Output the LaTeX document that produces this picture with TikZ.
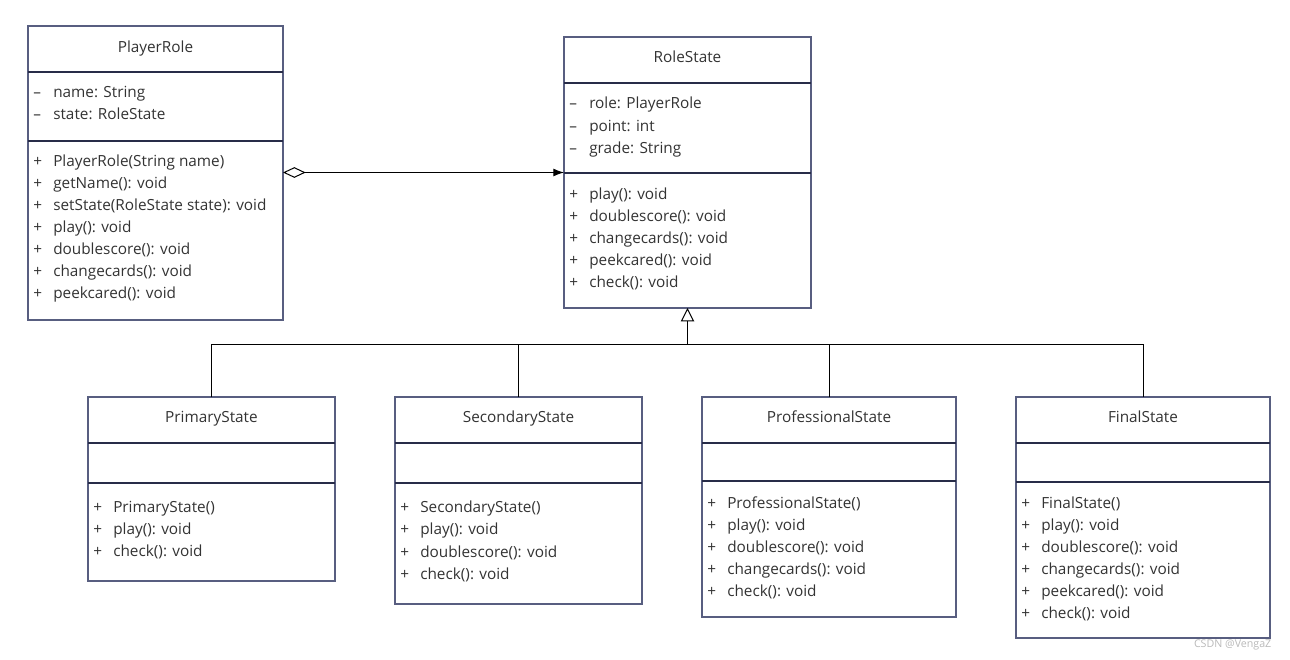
\documentclass[tikz,border=0pt]{standalone}
\usepackage{fontspec}
\setmainfont{Open Sans}
\usetikzlibrary{arrows.meta,positioning}
\definecolor{boxline}{RGB}{88,94,128}
\definecolor{sepline}{RGB}{40,44,72}
\definecolor{txt}{RGB}{51,51,51}
\newcommand{\mem}[2]{\makebox[15pt][l]{#1}#2}

\begin{document}
\begin{tikzpicture}[x=0.75pt,y=-0.75pt,>=Latex]
\tikzstyle{cls}=[draw=boxline,line width=0.9pt,inner sep=0pt,outer sep=0pt,anchor=north west]
\tikzstyle{sep}=[draw=sepline,line width=0.8pt]
\tikzstyle{title}=[font=\fontsize{11.5}{13}\selectfont,text=txt,text height=8.5pt,text depth=2pt,inner sep=0pt]
\tikzstyle{member}=[title,anchor=west]
\tikzstyle{link}=[line width=0.75pt]
\tikzstyle{agg}=[link,{Diamond[open,length=17pt,width=8pt]}-{Latex[length=8pt,width=6pt]}]
\tikzstyle{gen}=[link,-{Triangle[open,length=10pt,width=10pt]}]

\useasboundingbox (0,0) rectangle (1290,660);

% PlayerRole
\node[cls,minimum width=255*0.75pt,minimum height=294*0.75pt] (PR) at (28,26) {};
\draw[sep] (PR.west |- 0,72) -- (PR.east |- 0,72);
\draw[sep] (PR.west |- 0,141) -- (PR.east |- 0,141);
\node[title] (PR-t) at (PR.north |- 0,48) {PlayerRole};
\foreach \m [count=\i] in {{name: String},{state: RoleState}}
  \node[member] (PR-a\i) at (33,71+22*\i) {\mem{--}{\m}};
\foreach \m [count=\i] in {{PlayerRole(String name)},{getName(): void},{setState(RoleState state): void},{play(): void},{doublescore(): void},{changecards(): void},{peekcared(): void}}
  \node[member] (PR-m\i) at (33,140+22*\i) {\mem{+}{\m}};

% RoleState
\node[cls,minimum width=247*0.75pt,minimum height=271*0.75pt] (RS) at (564,37) {};
\draw[sep] (RS.west |- 0,83) -- (RS.east |- 0,83);
\draw[sep] (RS.west |- 0,173) -- (RS.east |- 0,173);
\node[title] (RS-t) at (RS.north |- 0,58) {RoleState};
\foreach \m [count=\i] in {{role: PlayerRole},{point: int},{grade: String}}
  \node[member] (RS-a\i) at (569,82+22.5*\i) {\mem{--}{\m}};
\foreach \m [count=\i] in {{play(): void},{doublescore(): void},{changecards(): void},{peekcared(): void},{check(): void}}
  \node[member] (RS-m\i) at (569,173+22*\i) {\mem{+}{\m}};

% PrimaryState
\node[cls,minimum width=247*0.75pt,minimum height=184*0.75pt] (PS) at (88,397) {};
\draw[sep] (PS.west |- 0,443) -- (PS.east |- 0,443);
\draw[sep] (PS.west |- 0,483) -- (PS.east |- 0,483);
\node[title] (PS-t) at (PS.north |- 0,418) {PrimaryState};
\foreach \m [count=\i] in {{PrimaryState()},{play(): void},{check(): void}}
  \node[member] (PS-m\i) at (93,486+22*\i) {\mem{+}{\m}};

% SecondaryState
\node[cls,minimum width=247*0.75pt,minimum height=207*0.75pt] (SS) at (395,397) {};
\draw[sep] (SS.west |- 0,443) -- (SS.east |- 0,443);
\draw[sep] (SS.west |- 0,483) -- (SS.east |- 0,483);
\node[title] (SS-t) at (SS.north |- 0,418) {SecondaryState};
\foreach \m [count=\i] in {{SecondaryState()},{play(): void},{doublescore(): void},{check(): void}}
  \node[member] (SS-m\i) at (400,486+22.3*\i) {\mem{+}{\m}};

% ProfessionalState
\node[cls,minimum width=254*0.75pt,minimum height=220*0.75pt] (PfS) at (702,397) {};
\draw[sep] (PfS.west |- 0,443) -- (PfS.east |- 0,443);
\draw[sep] (PfS.west |- 0,481) -- (PfS.east |- 0,481);
\node[title] (PfS-t) at (PfS.north |- 0,418) {ProfessionalState};
\foreach \m [count=\i] in {{ProfessionalState()},{play(): void},{doublescore(): void},{changecards(): void},{check(): void}}
  \node[member] (PfS-m\i) at (707,482+22*\i) {\mem{+}{\m}};

% FinalState
\node[cls,minimum width=254*0.75pt,minimum height=241*0.75pt] (FS) at (1016,397) {};
\draw[sep] (FS.west |- 0,443) -- (FS.east |- 0,443);
\draw[sep] (FS.west |- 0,482) -- (FS.east |- 0,482);
\node[title] (FS-t) at (FS.north |- 0,418) {FinalState};
\foreach \m [count=\i] in {{FinalState()},{play(): void},{doublescore(): void},{changecards(): void},{peekcared(): void},{check(): void}}
  \node[member] (FS-m\i) at (1021,482+22*\i) {\mem{+}{\m}};

% relations
\draw[agg] (PR.east |- RS.west) -- (RS.west);
\coordinate (bus) at (RS.south |- 0,344);
\draw[gen] (bus) -- (RS.south);
\draw[link] (PS.north) -- (PS.north |- bus) -- (FS.north |- bus) -- (FS.north);
\draw[link] (SS.north) -- (SS.north |- bus);
\draw[link] (PfS.north) -- (PfS.north |- bus);

\node[font=\fontsize{8}{9}\selectfont,text=gray!55,anchor=east] (wm) at (1276,645) {CSDN @VengaZ};
\end{tikzpicture}
\end{document}
